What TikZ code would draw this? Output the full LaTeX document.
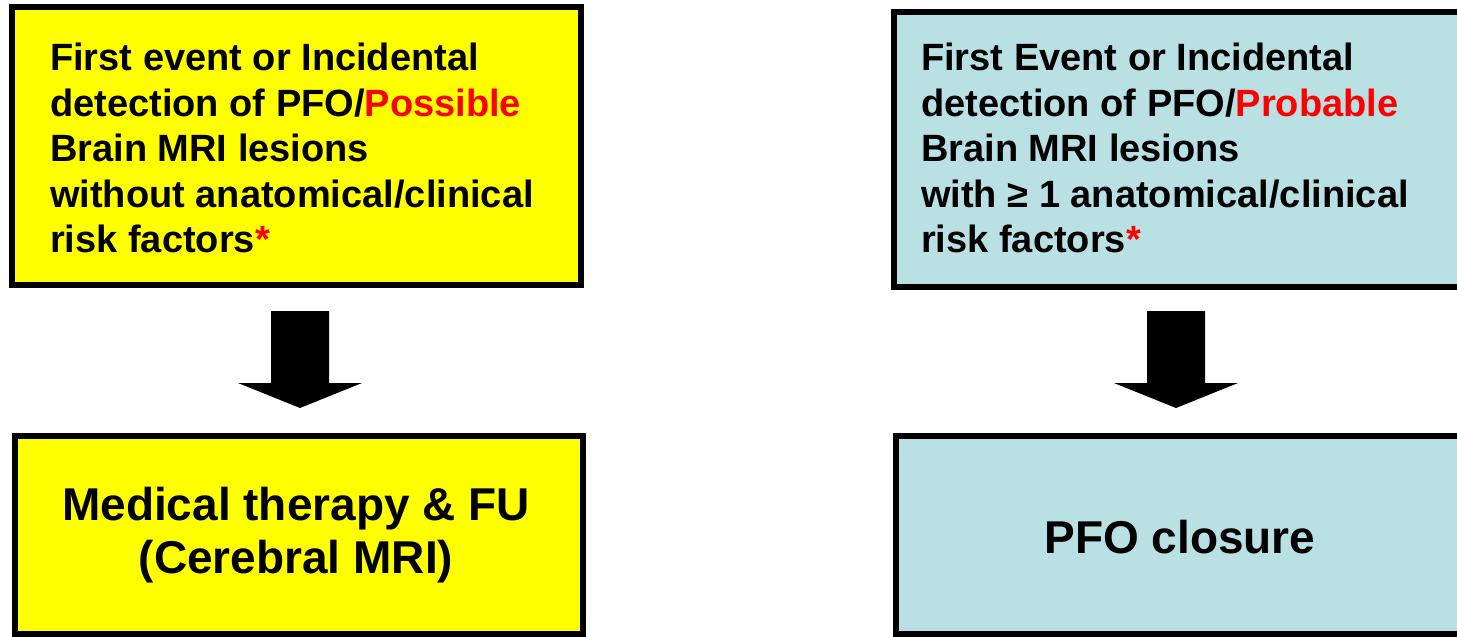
\documentclass[tikz,border=0pt]{standalone}
\usepackage{fontspec}
\setmainfont{Liberation Sans}
\usetikzlibrary{calc}
\definecolor{boxyellow}{RGB}{255,255,0}
\definecolor{boxblue}{RGB}{185,224,227}
\definecolor{hired}{RGB}{255,0,0}
\begin{document}
\begin{tikzpicture}[x=1pt,y=-1pt,
  box/.style={draw=black, line width=6pt, inner sep=0pt, outer sep=0pt},
  toptext/.style={font=\bfseries\fontsize{38}{45.5}\selectfont, align=left, anchor=north west, inner sep=0pt},
  bottext/.style={font=\bfseries\fontsize{46}{53}\selectfont, align=center, inner sep=0pt},
  downarrow/.pic={\fill[black] (-29,0) -- (29,0) -- (29,72) -- (62,72) -- (0,97) -- (-62,72) -- (-29,72) -- cycle;}
]
\useasboundingbox (0,0) rectangle (1457,637);
% boxes
\node[box, fill=boxyellow, minimum width=569pt, minimum height=278pt, anchor=north west] (b1) at (12,7) {};
\node[box, fill=boxblue, minimum width=567pt, minimum height=275pt, anchor=north west] (b2) at (894,12) {};
\node[box, fill=boxyellow, minimum width=568pt, minimum height=198pt, anchor=north west] (b3) at (15,436) {};
\node[box, fill=boxblue, minimum width=567pt, minimum height=198pt, anchor=north west] (b4) at (896,436) {};
% texts
\node[toptext] (t1) at (50,43) {First event or Incidental\\detection of PFO/\textcolor{hired}{Possible}\\Brain MRI lesions\\without anatomical/clinical\\risk factors\textcolor{hired}{*}};
\node[toptext] (t2) at (921,43) {First Event or Incidental\\detection of PFO/\textcolor{hired}{Probable}\\Brain MRI lesions\\with ≥ 1 anatomical/clinical\\risk factors\textcolor{hired}{*}};
\node[bottext] (t3) at (296,535) {Medical therapy \& FU\\(Cerebral MRI)};
\node[bottext] (t4) at (1180,537) {PFO closure};
% arrows
\pic at (300,311) {downarrow};
\pic at (1176,311) {downarrow};
\end{tikzpicture}
\end{document}
